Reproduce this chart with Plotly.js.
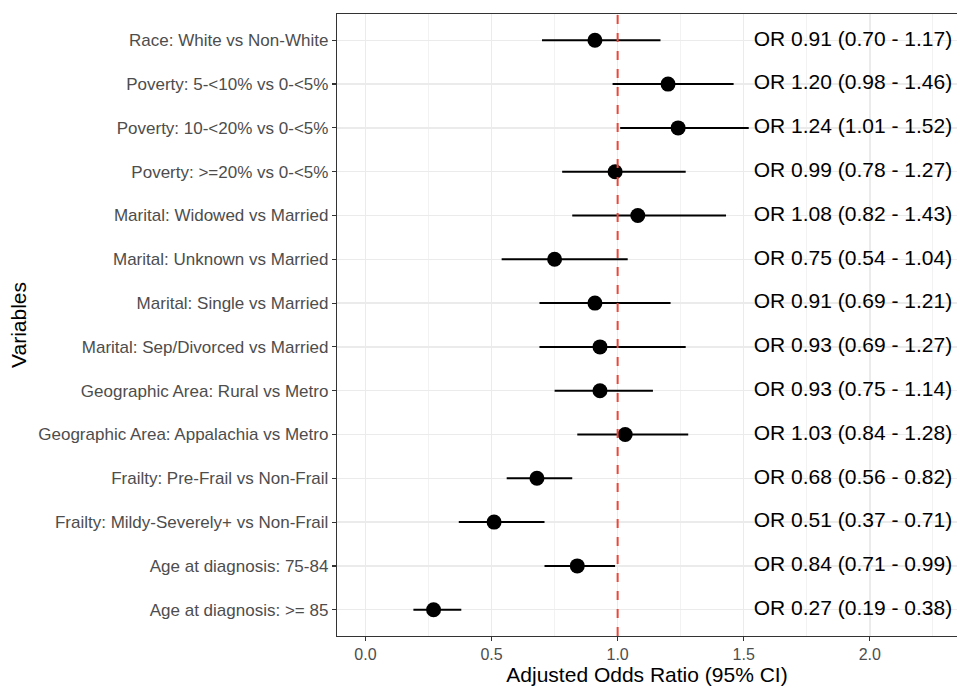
<!DOCTYPE html>
<html>
<head>
<meta charset="utf-8">
<script src="https://cdn.plot.ly/plotly-3.0.1.min.js"></script>
<style>html,body{margin:0;padding:0;background:#fff;}#chart{width:957px;height:687px;}</style>
</head>
<body>
<div id="chart"></div>
<script>
const variables = [
  "Race: White vs Non-White",
  "Poverty: 5-<10% vs 0-<5%",
  "Poverty: 10-<20% vs 0-<5%",
  "Poverty: >=20% vs 0-<5%",
  "Marital: Widowed vs Married",
  "Marital: Unknown vs Married",
  "Marital: Single vs Married",
  "Marital: Sep/Divorced vs Married",
  "Geographic Area: Rural vs Metro",
  "Geographic Area: Appalachia vs Metro",
  "Frailty: Pre-Frail vs Non-Frail",
  "Frailty: Mildy-Severely+ vs Non-Frail",
  "Age at diagnosis: 75-84",
  "Age at diagnosis: >= 85"
];
const oddsRatio = [0.91, 1.20, 1.24, 0.99, 1.08, 0.75, 0.91, 0.93, 0.93, 1.03, 0.68, 0.51, 0.84, 0.27];
const lowerCI   = [0.70, 0.98, 1.01, 0.78, 0.82, 0.54, 0.69, 0.69, 0.75, 0.84, 0.56, 0.37, 0.71, 0.19];
const upperCI   = [1.17, 1.46, 1.52, 1.27, 1.43, 1.04, 1.21, 1.27, 1.14, 1.28, 0.82, 0.71, 0.99, 0.38];
const xTickVals = [0, 0.5, 1.0, 1.5, 2.0];
const xTickText = ["0.0", "0.5", "1.0", "1.5", "2.0"];
const referenceOR = 1;
const labelX = 1.54;

const fmt = v => v.toFixed(2);
const labels = oddsRatio.map((v, i) => `OR ${fmt(v)} (${fmt(lowerCI[i])} - ${fmt(upperCI[i])})`);

const trace = {
  type: 'scatter',
  mode: 'markers',
  x: oddsRatio,
  y: variables,
  marker: {color: '#000000', size: 15},
  error_x: {
    type: 'data', symmetric: false,
    array: upperCI.map((u, i) => u - oddsRatio[i]),
    arrayminus: oddsRatio.map((v, i) => v - lowerCI[i]),
    color: '#000000', thickness: 2, width: 0
  },
  hoverinfo: 'x+y',
  showlegend: false
};

const textTrace = {
  type: 'scatter',
  mode: 'text',
  x: variables.map(() => labelX),
  y: variables,
  text: labels,
  textposition: 'middle right',
  textfont: {family: 'Liberation Sans, Arial, sans-serif', size: 21, color: '#000000'},
  hoverinfo: 'skip',
  showlegend: false,
  cliponaxis: false
};

const layout = {
  width: 957, height: 687,
  margin: {l: 337, r: 0, t: 14, b: 51},
  paper_bgcolor: '#ffffff',
  plot_bgcolor: '#ffffff',
  font: {family: 'Liberation Sans, Arial, sans-serif'},
  xaxis: {
    range: [-0.113, 2.346],
    tickvals: xTickVals,
    ticktext: xTickText,
    ticks: 'outside', ticklen: 4, tickwidth: 1.2, tickcolor: '#333333',
    tickfont: {size: 16, color: '#4D4D4D'},
    showgrid: true, gridcolor: '#EBEBEB', gridwidth: 1.5,
    minor: {tickvals: [0.25, 0.75, 1.25, 1.75, 2.25], showgrid: true, gridcolor: '#F2F2F2', gridwidth: 1, ticks: ''},
    zeroline: false,
    showline: true, linecolor: '#333333', linewidth: 1.2, mirror: true,
    title: {text: 'Adjusted Odds Ratio (95% CI)', font: {size: 21, color: '#000000'}, standoff: 4},
    fixedrange: true
  },
  yaxis: {
    type: 'category',
    categoryorder: 'array', categoryarray: variables,
    range: [13.6, -0.6],
    ticks: 'outside', ticklen: 4, tickwidth: 1.2, tickcolor: '#333333',
    tickfont: {size: 17, color: '#4D4D4D'},
    showgrid: true, gridcolor: '#EBEBEB', gridwidth: 1.5,
    zeroline: false,
    showline: true, linecolor: '#333333', linewidth: 1.2, mirror: false,
    title: {text: 'Variables', font: {size: 21, color: '#000000'}, standoff: 6},
    automargin: false,
    fixedrange: true
  },
  shapes: [{
    type: 'line', xref: 'x', yref: 'paper',
    x0: referenceOR, x1: referenceOR, y0: 0, y1: 1,
    line: {color: '#E8473A', width: 2, dash: 'dash'},
    layer: 'above'
  }]
};

Plotly.newPlot('chart', [trace, textTrace], layout, {displayModeBar: false, staticPlot: true});
</script>
</body>
</html>
